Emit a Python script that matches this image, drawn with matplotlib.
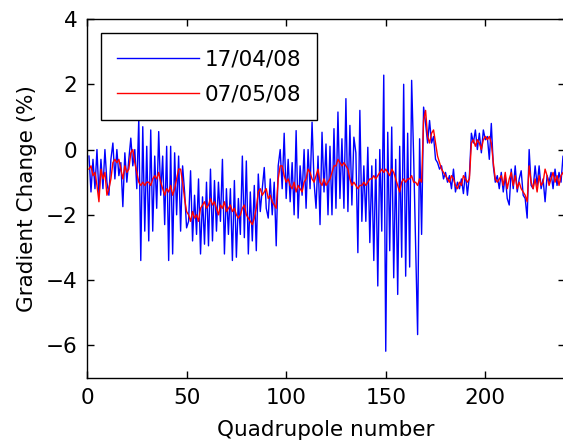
import numpy as np
import matplotlib
matplotlib.use('Agg')
import matplotlib.pyplot as plt

# gradient change per quadrupole, two measurement dates
quad = np.arange(1, 241)

grad_170408 = [
    -0.2, -1.3, -0.3, -1.2, 0.0, -1.4, -0.3, -1.2, 0.0, -1.0,
    -1.4, -0.3, 0.2, -0.9, 0.0, -0.8, -0.4, -1.75, -0.1, -1.0,
    -0.3, 0.35, -0.5, 0.0, -1.2, 0.95, -3.4, 0.7, -2.5, 0.1,
    -2.8, 0.6, -2.5, -0.2, -1.8, 0.55, -1.4, -0.2, -2.3, 0.1,
    -3.4, 0.1, -3.2, -0.1, -2.0, -0.2, -2.5, -0.5, -1.3, -2.4,
    -2.2, -0.65, -2.8, -1.4, -2.6, -0.9, -3.2, -1.45, -2.9, -1.0,
    -2.95, -0.6, -2.8, -0.95, -2.5, -1.0, -2.2, -0.3, -3.2, -1.2,
    -2.6, -1.2, -3.4, -0.95, -3.3, -1.5, -2.6, -0.2, -2.7, -0.35,
    -3.2, -1.3, -2.8, -1.1, -3.1, -0.75, -1.9, -1.2, -0.55, -1.8,
    -2.1, -0.9, -2.0, -1.0, -2.95, -0.5, 0.0, -1.2, 0.5, -1.5,
    -0.3, -1.6, -0.4, -2.0, 0.58, -2.1, -0.5, -1.4, 0.0, -1.8,
    0.0, -1.2, 0.84, -1.0, -1.8, -0.2, -2.3, 0.53, -1.3, 0.17,
    -2.0, 0.1, -2.0, 0.64, -1.8, 1.15, -1.5, 0.33, -1.8, 1.56,
    -1.9, 0.74, -1.7, 0.38, -0.1, -3.16, 1.2, -2.2, -0.5, -2.2,
    0.07, -2.85, -0.5, -3.4, -0.3, -4.18, 0.0, -2.5, 2.28, -6.18,
    0.53, -3.1, 0.69, -3.93, -0.3, -4.44, 0.1, -3.3, 2.0, -3.88,
    0.5, -3.6, 2.12, -0.2, -2.9, -5.67, 0.33, -2.6, 1.3, 0.8,
    0.2, 0.89, 0.2, 0.4, -0.3, -0.4, -0.6, -0.5, -0.9, -0.7,
    -1.0, -0.8, -1.2, -0.6, -1.3, -1.0, -1.2, -0.9, -1.35, -0.7,
    -1.4, -0.8, 0.5, 0.2, 0.6, 0.0, 0.5, -0.1, 0.6, 0.3,
    0.4, -0.3, 0.8, -0.5, -1.0, -0.8, -1.2, -0.7, -1.3, -0.8,
    -1.5, -1.7, -0.6, -1.2, -0.5, -1.3, -0.9, -0.65, -1.4, -1.5,
    -2.1, 0.0, -1.1, -1.2, -0.5, -1.1, -0.5, -1.2, -0.9, -1.6,
    -0.8, -1.0, -0.7, -1.2, -0.6, -1.1, -0.7, -1.0, -0.2, -0.8,
]

grad_070508 = [
    -0.6, -0.5, -0.8, -0.7, -1.1, -1.6, -0.6, -0.9, -0.7, -1.4,
    -1.2, -0.9, -0.4, -0.3, -0.4, -0.3, -0.6, -0.9, -0.5, -0.7,
    -0.6, -0.1, 0.0, -0.4, -0.7, -1.0, -1.1, -1.0, -1.1, -1.0,
    -1.0, -1.1, -0.9, -0.8, -0.9, -0.7, -1.0, -1.2, -1.4, -1.2,
    -1.3, -1.1, -1.4, -1.2, -0.9, -0.6, -0.6, -1.0, -1.5, -1.9,
    -2.0, -2.2, -1.9, -2.1, -2.0, -2.2, -1.8, -1.7, -1.6, -1.8,
    -1.7, -1.5, -1.7, -1.6, -1.8, -2.0, -1.7, -1.8, -1.6, -1.9,
    -1.8, -1.7, -1.9, -1.8, -2.0, -2.1, -2.0, -1.8, -1.7, -2.0,
    -2.1, -2.2, -2.3, -2.1, -1.8, -1.3, -1.2, -1.4, -1.3, -1.2,
    -1.5, -1.4, -1.6, -1.7, -1.8, -0.9, -0.5, -0.5, -0.8, -1.0,
    -0.9, -1.1, -1.2, -1.0, -1.3, -1.1, -1.2, -1.3, -1.0, -0.9,
    -0.6, -0.7, -0.9, -1.0, -0.8, -0.6, -1.0, -1.1, -0.9, -1.1,
    -1.0, -0.9, -0.7, -0.5, -0.5, -0.3, -0.4, -0.5, -0.4, -0.5,
    -0.6, -0.9, -1.1, -1.0, -1.1, -1.2, -1.1, -1.1, -1.0, -1.1,
    -1.0, -0.9, -0.9, -0.8, -0.9, -0.8, -0.7, -0.6, -0.7, -0.6,
    -0.7, -0.8, -0.6, -0.7, -0.9, -1.1, -1.3, -1.0, -0.9, -1.0,
    -0.9, -0.9, -0.8, -1.0, -1.0, -1.1, -0.9, -1.0, 0.9, 1.2,
    0.4, 0.2, 0.5, 0.6, 0.2, -0.2, -0.4, -0.6, -0.7, -0.8,
    -0.9, -1.0, -0.8, -0.9, -1.1, -1.2, -1.0, -1.1, -0.8, -0.9,
    -1.0, -0.9, 0.2, 0.3, 0.1, 0.3, 0.2, 0.0, 0.3, 0.4,
    0.3, 0.4, 0.2, -0.4, -0.9, -1.0, -0.9, -0.8, -1.1, -0.7,
    -1.2, -0.9, -0.7, -1.1, -0.8, -1.2, -1.0, -1.2, -1.3, -1.4,
    -1.6, -0.5, -1.0, -1.2, -0.9, -1.3, -0.8, -1.1, -1.0, -0.6,
    -0.8, -1.1, -0.9, -0.7, -1.0, -0.8, -1.1, -0.8, -0.7, -0.9,
]

x_ticks = [0, 50, 100, 150, 200]
y_ticks = [-6, -4, -2, 0, 2, 4]

fs = 15.5

fig = plt.figure(figsize=(5.63, 4.47), dpi=100)
# axes run a little past the right edge of the picture, like the original
ax = fig.add_axes([87 / 563, 69 / 447, 478 / 563, 359 / 447])

ax.plot(quad, grad_170408, color='b', lw=1.0, label='17/04/08')
ax.plot(quad, grad_070508, color='r', lw=1.0, label='07/05/08')

ax.set_xlim(0, 240)
ax.set_ylim(-7, 4)
ax.set_xticks(x_ticks)
ax.set_yticks(y_ticks)
ax.tick_params(direction='in', top=True, right=True, length=5, width=1,
               labelsize=fs, color='k')
ax.tick_params(axis='x', pad=7)
ax.tick_params(axis='y', pad=7)
for s in ax.spines.values():
    s.set_linewidth(1.0)

ax.set_xlabel('Quadrupole number', fontsize=fs, labelpad=9)
ax.set_ylabel('Gradient Change (%)', fontsize=fs, labelpad=6)

leg = ax.legend(loc='upper left', bbox_to_anchor=(0.029, 0.961),
                borderaxespad=0, fancybox=False, edgecolor='k', framealpha=1,
                fontsize=fs, handlelength=3.8, handletextpad=0.25,
                labelspacing=0.7, borderpad=0.75)
leg.get_frame().set_linewidth(1.0)

fig.savefig('out.png', dpi=100)
